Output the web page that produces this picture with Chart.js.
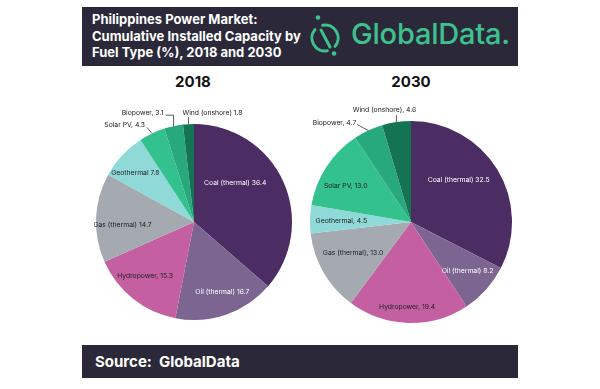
<!DOCTYPE html>
<html>
<head>
<meta charset="utf-8">
<script src="https://cdn.jsdelivr.net/npm/chart.js@4.4.0/dist/chart.umd.min.js"></script>
<style>
  html, body { margin: 0; padding: 0; background: #fff; }
  body { width: 600px; height: 389px; position: relative; overflow: hidden; font-family: Inter, "Noto Sans", sans-serif; }
  .band { position: absolute; left: 82px; width: 436px; background: #2b2939; color: #fff; }
  #header { top: 7px; height: 59px; }
  #title { position: absolute; left: 10px; top: 4px; font-weight: 700; font-size: 13px; line-height: 16.5px; }
  #logoText { position: absolute; left: 269px; top: 10px; font-size: 29px; font-weight: 500; color: #3ec28d; letter-spacing: -0.2px; line-height: 34px; }
  #logoIcon { position: absolute; left: 226px; top: 6px; }
  #footer { top: 345px; height: 33px; }
  #source { position: absolute; left: 13px; top: 0; line-height: 33px; font-weight: 700; font-size: 15px; }
  .year { position: absolute; top: 72px; width: 100px; text-align: center; font-weight: 700; font-size: 15px; color: #111; }
  .pieBox { position: absolute; top: 70px; width: 230px; height: 270px; }
</style>
</head>
<body>
<div id="header" class="band">
  <div id="title">Philippines Power Market:<br>Cumulative Installed Capacity by<br>Fuel Type (%), 2018 and 2030</div>
  <svg id="logoIcon" width="40" height="52" viewBox="0 0 40 52">
    <g fill="none" stroke="#3ec28d" stroke-width="3" stroke-linecap="round">
      <path d="M 14.7 12.2 A 13 13 0 0 1 27 33.4"/>
      <path d="M 19.3 37.8 A 13 13 0 0 1 7 16.6"/>
      <line x1="13" y1="17" x2="22" y2="34"/>
    </g>
    <circle cx="10" cy="4.5" r="2.3" fill="#3ec28d"/>
    <circle cx="26" cy="40.5" r="2.3" fill="#3ec28d"/>
  </svg>
  <div id="logoText">GlobalData.</div>
</div>

<div class="year" style="left:143px">2018</div>
<div class="year" style="left:361px">2030</div>

<div class="pieBox" style="left:79px"><canvas id="pie2018"></canvas></div>
<div class="pieBox" style="left:296px"><canvas id="pie2030"></canvas></div>

<div id="footer" class="band"><div id="source">Source:&nbsp; GlobalData</div></div>

<script>
const fuelTypes = ['Coal (thermal)', 'Oil (thermal)', 'Hydropower', 'Gas (thermal)', 'Geothermal', 'Solar PV', 'Biopower', 'Wind (onshore)'];
const share2018 = [36.4, 16.7, 15.3, 14.7, 7.8, 4.3, 3.1, 1.8];
const share2030 = [32.5, 8.2, 19.4, 13.0, 4.5, 13.0, 4.7, 4.6];
const sep2018 = [' ', ' ', ', ', ' ', ' ', ', ', ', ', ' '];
const sep2030 = [' ', ' ', ', ', ', ', ', ', ', ', ', ', ', '];

const sliceColors = ['#4b2c63', '#7c6591', '#c45fa1', '#a4aab0', '#8fd9d8', '#33c18e', '#28a97d', '#147352'];
const labelColors = ['#fff', '#fff', '#222', '#222', '#222', '#222', '#222', '#222'];

// label placement: inside -> [radius fraction, angle nudge in deg]
// outside -> leader points relative to slice edge, text offset, align
const place2018 = [
  { rf: 0.58, da: -19 },
  { rf: 0.77, da: -3 },
  { rf: 0.74, da: 4 },
  { rf: 0.73, da: -5 },
  { rf: 0.78, da: -3 },
  { out: [[-5, -6]], t: [-7, -8], align: 'right' },
  { out: [[0, -11], [-8, -11]], t: [-10, -13], align: 'right' },
  { out: [[0, -7]], t: [-6, -11], align: 'left' }
];
const place2030 = [
  { rf: 0.63, da: -10 },
  { rf: 0.74, da: -1 },
  { rf: 0.84, da: 1 },
  { rf: 0.65, da: 2 },
  { rf: 0.69, da: -1 },
  { rf: 0.74, da: -4 },
  { out: [[-11, -6]], t: [-12, -7.5], align: 'right' },
  { out: [[0, -7]], t: [-12, -12], align: 'center' }
];

const sliceLabels = {
  id: 'sliceLabels',
  afterDatasetsDraw(chart, args, opts) {
    const ctx = chart.ctx;
    const meta = chart.getDatasetMeta(0);
    const values = chart.data.datasets[0].data;
    ctx.save();
    ctx.font = '6.8px Inter, "Noto Sans", sans-serif';
    ctx.textBaseline = 'middle';
    meta.data.forEach((arc, i) => {
      const p = arc.getProps(['x', 'y', 'startAngle', 'endAngle', 'outerRadius'], true);
      const mid = (p.startAngle + p.endAngle) / 2;
      const pl = opts.place[i];
      const text = fuelTypes[i] + opts.sep[i] + values[i].toFixed(1);
      if (!pl.out) {
        const a = mid + pl.da * Math.PI / 180;
        ctx.fillStyle = labelColors[i];
        ctx.textAlign = 'center';
        ctx.fillText(text, p.x + pl.rf * p.outerRadius * Math.cos(a), p.y + pl.rf * p.outerRadius * Math.sin(a));
      } else {
        const ex = p.x + p.outerRadius * Math.cos(mid);
        const ey = p.y + p.outerRadius * Math.sin(mid);
        ctx.strokeStyle = '#333';
        ctx.lineWidth = 0.8;
        ctx.beginPath();
        ctx.moveTo(ex, ey);
        pl.out.forEach(pt => ctx.lineTo(ex + pt[0], ey + pt[1]));
        ctx.stroke();
        ctx.fillStyle = '#222';
        ctx.textAlign = pl.align;
        ctx.fillText(text, ex + pl.t[0], ey + pl.t[1]);
      }
    });
    ctx.restore();
  }
};

function makePie(id, values, sep, place, padding) {
  new Chart(document.getElementById(id), {
    type: 'pie',
    data: {
      labels: fuelTypes,
      datasets: [{
        data: values,
        backgroundColor: sliceColors,
        borderWidth: 0
      }]
    },
    options: {
      responsive: true,
      maintainAspectRatio: false,
      animation: false,
      layout: { padding: padding },
      plugins: {
        legend: { display: false },
        tooltip: { enabled: false },
        sliceLabels: { sep: sep, place: place }
      }
    },
    plugins: [sliceLabels]
  });
}

makePie('pie2018', share2018, sep2018, place2018, { left: 17, right: 17, top: 54, bottom: 20 });
makePie('pie2030', share2030, sep2030, place2030, { left: 14, right: 14, top: 51, bottom: 17 });
</script>
</body>
</html>
